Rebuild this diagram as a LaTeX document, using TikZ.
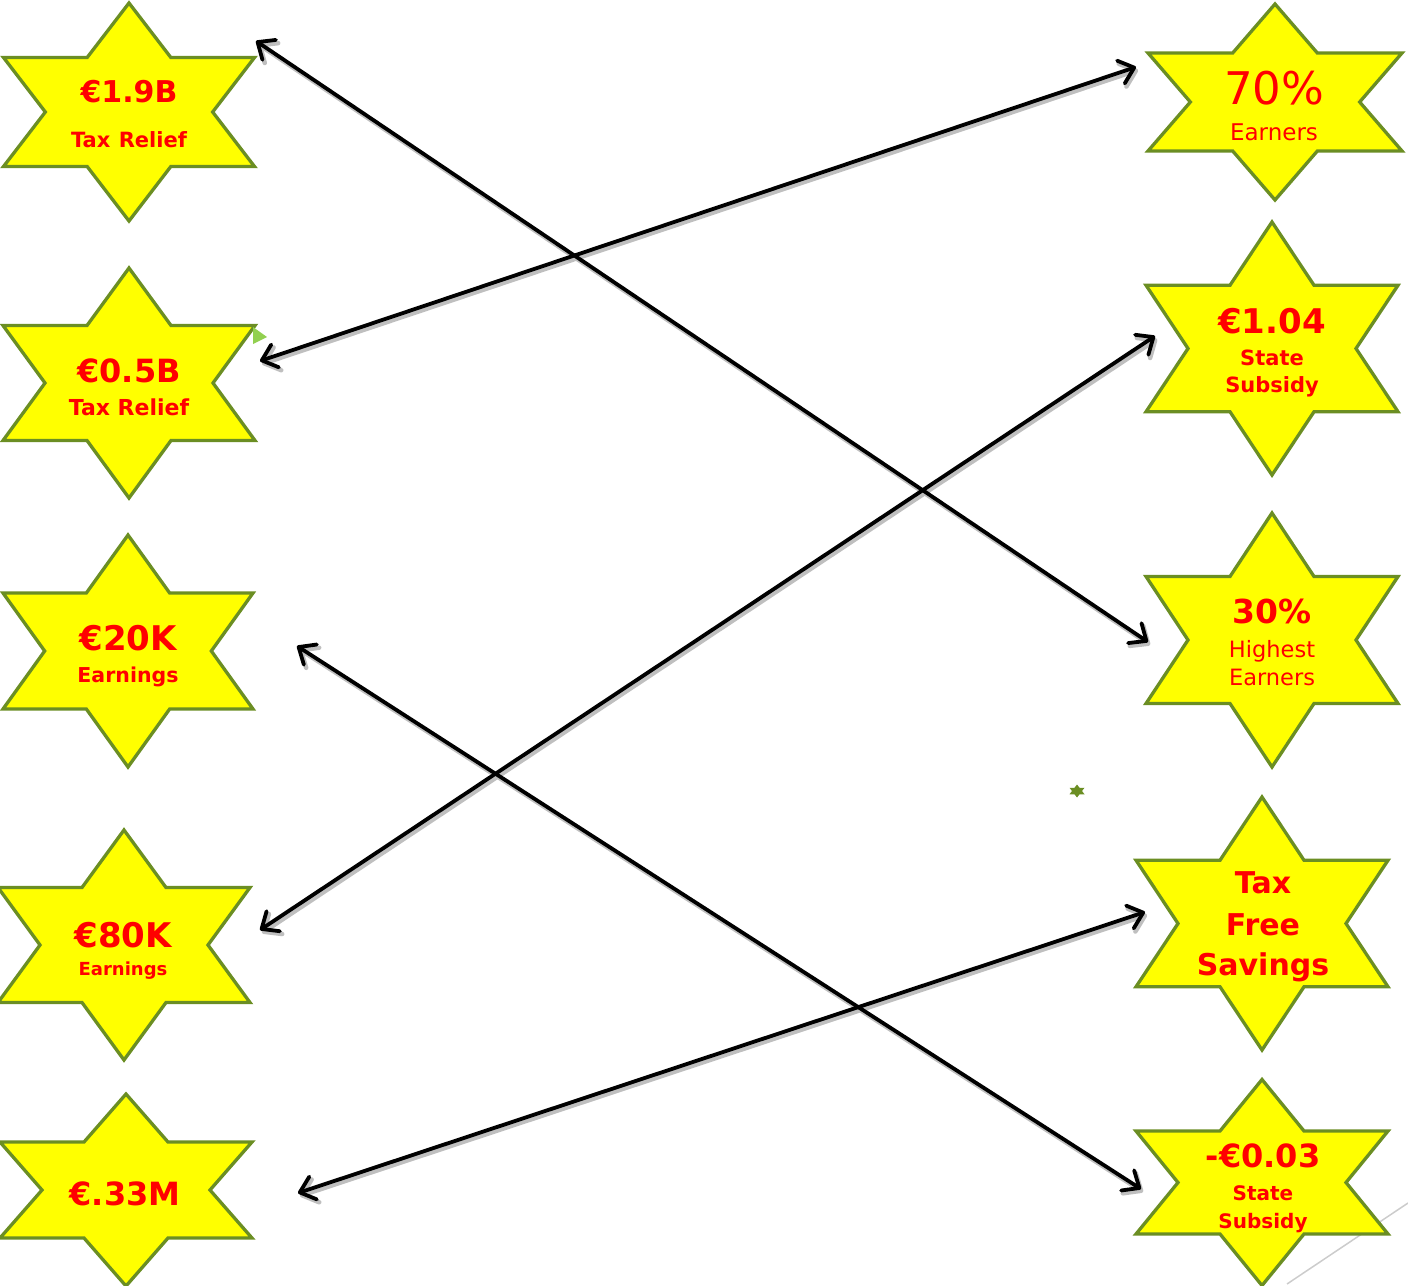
\documentclass[tikz,border=0pt]{standalone}
\usepackage{fontspec}
\setmainfont{DejaVu Sans}
\usetikzlibrary{arrows.meta}
\definecolor{starfill}{RGB}{255,255,0}
\definecolor{starline}{RGB}{107,142,35}
\definecolor{txtred}{RGB}{255,0,0}
\definecolor{tri}{RGB}{146,208,80}
\newcommand\hexstar[5]{%
  \draw[starbox] (#2,{#3-#5}) -- ({#2+#4/3},{#3-#5/2}) -- ({#2+#4},{#3-#5/2})
    -- ({#2+2*#4/3},#3) -- ({#2+#4},{#3+#5/2}) -- ({#2+#4/3},{#3+#5/2})
    -- (#2,{#3+#5}) -- ({#2-#4/3},{#3+#5/2}) -- ({#2-#4},{#3+#5/2})
    -- ({#2-2*#4/3},#3) -- ({#2-#4},{#3-#5/2}) -- ({#2-#4/3},{#3-#5/2}) -- cycle;
  \coordinate (#1) at (#2,#3);}
\newcommand\fs[1]{\fontsize{#1}{#1}\selectfont}
\begin{document}
\begin{tikzpicture}[x=1pt,y=-1pt,
  starbox/.style={fill=starfill, draw=starline, line width=3.3pt, line join=miter},
  lbl/.style={anchor=base, inner sep=0pt, text=txtred, font=\bfseries},
  lblr/.style={anchor=base, inner sep=0pt, text=txtred, font=\mdseries},
  link/.style={line width=3.8pt, line cap=round, line join=round,
    {Straight Barb[length=14pt,width=24pt,round]}-{Straight Barb[length=14pt,width=24pt,round]}}]
\useasboundingbox (0,0) rectangle (1408,1285);
% slide decoration
\draw[black!20, line width=1.5pt] (1287,1284) -- (1408,1203);
% stars
\hexstar{L1}{129}{112}{125.5}{109}
\hexstar{L2}{129}{383}{126}{115}
\hexstar{L3}{128}{651}{125}{116}
\hexstar{L4}{124}{945}{126}{115}
\hexstar{L5}{126}{1190}{126}{96}
\hexstar{R1}{1275}{102}{127}{98}
\hexstar{R2}{1272}{348.5}{126}{126.5}
\hexstar{R3}{1272}{640}{126}{127}
\hexstar{R4}{1262}{923.5}{126}{126.5}
\hexstar{R5}{1262}{1182.5}{126}{103}
% tiny star and triangle
\fill[starline] (1077,784.5) -- (1079.5,787.75) -- (1084.5,787.75) -- (1082,791) -- (1084.5,794.25) -- (1079.5,794.25) -- (1077,797.5) -- (1074.5,794.25) -- (1069.5,794.25) -- (1072,791) -- (1069.5,787.75) -- (1074.5,787.75) -- cycle;
\fill[tri] (253,327) -- (267,337) -- (253,344) -- cycle;
% texts
\node[lbl, font=\bfseries\fs{30}] (t1a) at (129,102) {€1.9B};
\node[lbl, font=\bfseries\fs{21}] (t1b) at (129,147) {Tax\hspace{0.4em}Relief};
\node[lbl, font=\bfseries\fs{32}] (t2a) at (129,382) {€0.5B};
\node[lbl, font=\bfseries\fs{22}] (t2b) at (129,415) {Tax Relief};
\node[lbl, font=\bfseries\fs{34}] (t3a) at (128,650) {€20K};
\node[lbl, font=\bfseries\fs{20.5}] (t3b) at (128,682) {Earnings};
\node[lbl, font=\bfseries\fs{34}] (t4a) at (123,947) {€80K};
\node[lbl, font=\bfseries\fs{18}] (t4b) at (123,975) {Earnings};
\node[lbl, font=\bfseries\fs{32}] (t5a) at (125,1205) {€.33M};
\node[lblr, font=\mdseries\fs{45}] (r1a) at (1274,104) {70\%};
\node[lblr, font=\mdseries\fs{23}] (r1b) at (1274,140) {Earners};
\node[lbl, font=\bfseries\fs{34}] (r2a) at (1272,333) {€1.04};
\node[lbl, font=\bfseries\fs{21}] (r2b) at (1272,365) {State};
\node[lbl, font=\bfseries\fs{21}] (r2c) at (1272,392) {Subsidy};
\node[lbl, font=\bfseries\fs{33}] (r3a) at (1272,623) {30\%};
\node[lblr, font=\mdseries\fs{22.5}] (r3b) at (1272,657) {Highest};
\node[lblr, font=\mdseries\fs{22.5}] (r3c) at (1272,685) {Earners};
\node[lbl, font=\bfseries\fs{30}] (r4a) at (1263,893) {Tax};
\node[lbl, font=\bfseries\fs{30}] (r4b) at (1263,935) {Free};
\node[lbl, font=\bfseries\fs{30}] (r4c) at (1263,975) {Savings};
\node[lbl, font=\bfseries\fs{32}] (r5a) at (1263,1167) {-€0.03};
\node[lbl, font=\bfseries\fs{20}] (r5b) at (1263,1200) {State};
\node[lbl, font=\bfseries\fs{20}] (r5c) at (1263,1228) {Subsidy};
% connector end points
\coordinate (a1s) at (256,41);   \coordinate (a1e) at (1148,642);
\coordinate (a2s) at (260,361);  \coordinate (a2e) at (1136,67);
\coordinate (a3s) at (297,646);  \coordinate (a3e) at (1141,1189);
\coordinate (a4s) at (260,930);  \coordinate (a4e) at (1155,336);
\coordinate (a5s) at (298,1193); \coordinate (a5e) at (1145,912);
\foreach \a in {1,...,5}{
  \draw[link, black!25, line width=4.5pt, transform canvas={shift={(2pt,-3pt)}}] (a\a s) -- (a\a e);
}
\foreach \a in {1,...,5}{
  \draw[link] (a\a s) -- (a\a e);
}
\end{tikzpicture}
\end{document}
